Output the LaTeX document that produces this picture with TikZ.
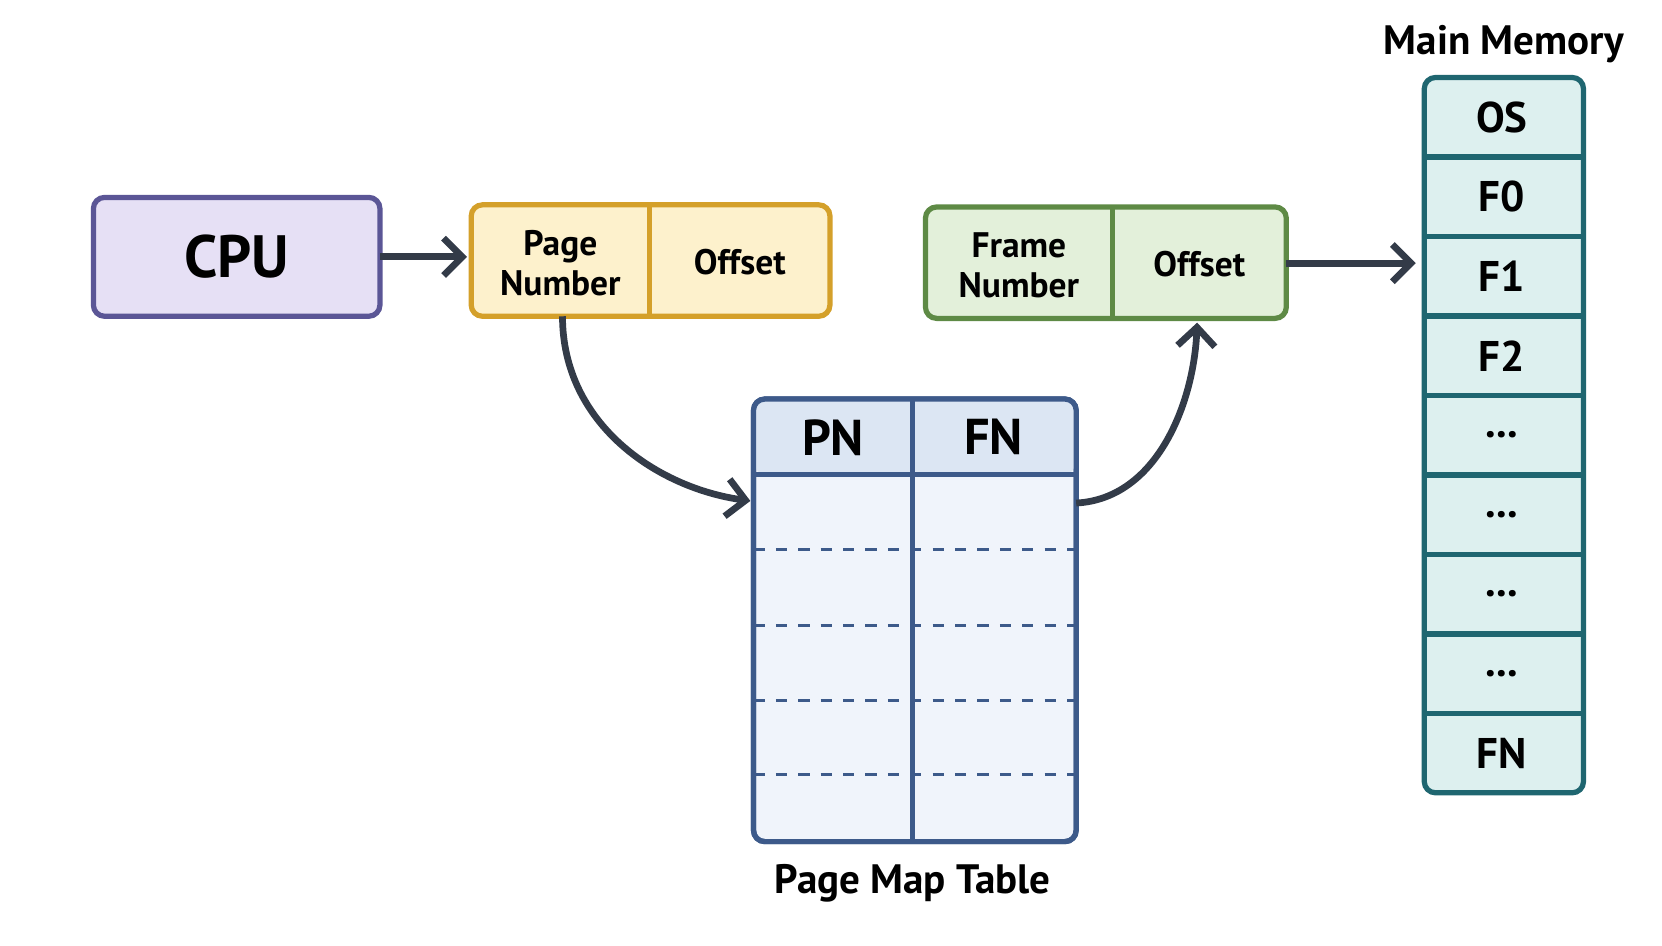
\documentclass[tikz,border=0pt]{standalone}
\usepackage{fontspec}
\setmainfont{PT Sans}
\usetikzlibrary{arrows.meta,positioning}
\definecolor{cpufill}{HTML}{E6E0F5}\definecolor{cpuline}{HTML}{5B5696}
\definecolor{lafill}{HTML}{FDF1CC}\definecolor{laline}{HTML}{D4A02A}
\definecolor{pafill}{HTML}{E3F0DA}\definecolor{paline}{HTML}{5E8A45}
\definecolor{tbfill}{HTML}{F0F4FB}\definecolor{tbhead}{HTML}{DCE6F3}\definecolor{tbline}{HTML}{3D5A8A}
\definecolor{mmfill}{HTML}{DDF0EF}\definecolor{mmline}{HTML}{1F6670}
\definecolor{arr}{HTML}{333B48}
\newcommand\memdots{...}
\begin{document}
\begin{tikzpicture}[x=0.01cm,y=-0.01cm,font=\bfseries,
    box/.style={draw=#1line,fill=#1fill,line width=1.4pt,rounded corners=3pt},
    link/.style={draw=arr,line width=1.8pt,-{Straight Barb[length=5pt,width=10pt]}}]
    \useasboundingbox (0,0) rectangle (1566,891);

    % CPU
    \filldraw[box=cpu] (88,186) rectangle (358,298);
    \node[font=\bfseries\fontsize{16}{18}\selectfont] (cpu) at (223,242) {CPU};
    \coordinate (cpuR) at (358,242);

    % logical address
    \filldraw[box=la] (444,193) rectangle (782,298);
    \draw[laline,line width=1.4pt] (612,193) -- (612,298);
    \node[align=center,font=\bfseries\fontsize{9.5}{10.5}\selectfont] (pn) at (528,248) {Page\\Number};
    \node[font=\bfseries\fontsize{9.5}{10.5}\selectfont] (off1) at (697,247) {Offset};
    \coordinate (laL) at (440,242);
    \coordinate (laB) at (530,298);

    % physical address
    \filldraw[box=pa] (872,195) rectangle (1212,300);
    \draw[paline,line width=1.4pt] (1048,195) -- (1048,300);
    \node[align=center,font=\bfseries\fontsize{9.5}{10.5}\selectfont] (fn) at (960,250) {Frame\\Number};
    \node[font=\bfseries\fontsize{9.5}{10.5}\selectfont] (off2) at (1130,249) {Offset};
    \coordinate (paR) at (1212,248);
    \coordinate (paB) at (1128,304);

    % page map table
    \filldraw[box=tb] (710,376) rectangle (1014,793);
    \fill[tbhead,rounded corners=3pt] (711,377) rectangle (1013,447);
    \draw[tbline,line width=1.2pt] (710,447) -- (1014,447);
    \draw[tbline,line width=1.2pt] (860,376) -- (860,793);
    \foreach \y in {518,589,660,730}
        \draw[tbline,dashed,line width=0.8pt] (710,\y) -- (1014,\y);
    \draw[box=tb,fill=none] (710,376) rectangle (1014,793);
    \node[font=\bfseries\fontsize{13.5}{15}\selectfont] (hpn) at (785,412) {PN};
    \node[font=\bfseries\fontsize{13.5}{15}\selectfont] (hfn) at (936,412) {FN};
    \node[font=\bfseries\fontsize{11}{13}\selectfont] (tbl) at (860,832) {Page Map Table};
    \coordinate (tbL) at (707,472);
    \coordinate (tbR) at (1014,474);

    % main memory
    \filldraw[box=mm] (1342,73) rectangle (1492,747);
    \foreach \t [count=\i] in {OS,F0,F1,F2,\memdots,\memdots,\memdots,\memdots,FN}{
        \node[font=\bfseries\fontsize{11.5}{13}\selectfont] (m\i) at (1415,{73+(\i-0.5)*74.9}) {\t};
        \ifnum\i<9 \draw[mmline,line width=1.4pt] (1342,{73+\i*74.9}) -- (1492,{73+\i*74.9});\fi
    }
    \node[font=\bfseries\fontsize{11}{13}\selectfont] (mmt) at (1417,42) {Main Memory};
    \coordinate (mmL) at (1334,248);

    % connectors
    \draw[link] (cpuR) -- (laL);
    \draw[link] (laB) .. controls (530,400) and (620,460) .. (tbL);
    \draw[link] (tbR) .. controls (1090,470) and (1125,380) .. (paB);
    \draw[link] (paR) -- (mmL);
\end{tikzpicture}
\end{document}
